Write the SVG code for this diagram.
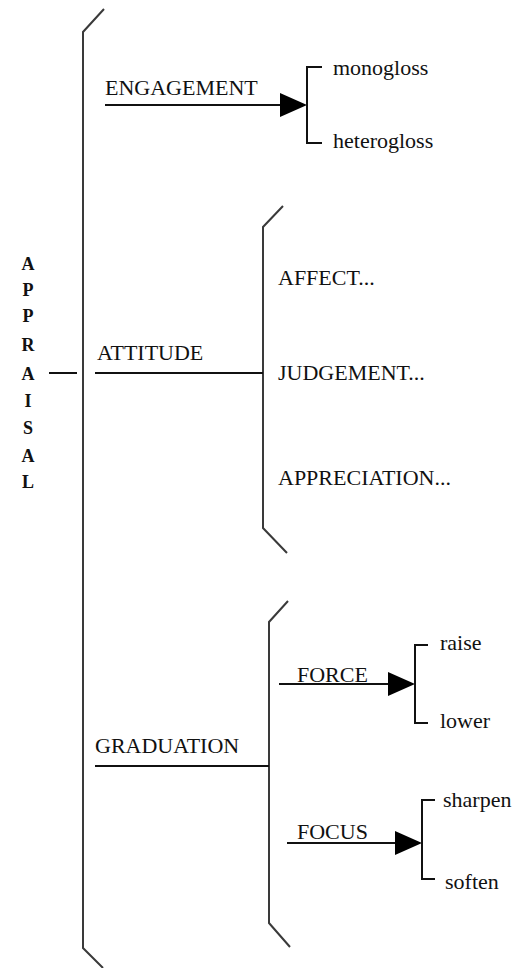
<svg xmlns="http://www.w3.org/2000/svg" width="515" height="968" viewBox="0 0 515 968">
<style>
text{font-family:'Liberation Serif','Times New Roman','DejaVu Serif',serif;fill:#111;}
.t{font-size:22px;}
.s{font-size:22px;}
.v{font-size:18px;font-weight:bold;text-anchor:middle;}
.br{fill:none;stroke:#3a3a3a;stroke-width:2;}
.ln{fill:none;stroke:#111;stroke-width:2;}
.ah{fill:#000;stroke:none;}
</style>
<rect width="515" height="968" fill="#fff"/>
<g id="appraisal">
<text class="v" x="28" y="270">A</text>
<text class="v" x="28" y="296">P</text>
<text class="v" x="28" y="322">P</text>
<text class="v" x="28" y="351">R</text>
<text class="v" x="28" y="380">A</text>
<text class="v" x="28" y="407">I</text>
<text class="v" x="28" y="434">S</text>
<text class="v" x="28" y="462">A</text>
<text class="v" x="28" y="488">L</text>
</g>
<g id="main-bracket">
<path class="br" d="M104,9 L83,32 L83,948 L103,968"/>
</g>
<g id="engagement">
<text class="t" x="105" y="95">ENGAGEMENT</text>
</g>
<g id="monogloss"><text class="s" x="333" y="75">monogloss</text></g>
<g id="heterogloss"><text class="s" x="333" y="148">heterogloss</text></g>
<g id="attitude">
<text class="t" x="97" y="360">ATTITUDE</text>
</g>
<g id="attitude-bracket">
<path class="br" d="M283,206 L263,227 L263,528 L287,553"/>
</g>
<g id="affect"><text class="t" x="278" y="285">AFFECT...</text></g>
<g id="judgement"><text class="t" x="278" y="380">JUDGEMENT...</text></g>
<g id="appreciation"><text class="t" x="278" y="485">APPRECIATION...</text></g>
<g id="graduation">
<text class="t" x="95" y="753">GRADUATION</text>
</g>
<g id="graduation-bracket">
<path class="br" d="M288,601 L269,622 L269,923 L290,947"/>
</g>
<g id="force"><text class="t" x="297" y="682">FORCE</text></g>
<g id="raise"><text class="s" x="440" y="650">raise</text></g>
<g id="lower"><text class="s" x="440" y="728">lower</text></g>
<g id="focus"><text class="t" x="297" y="839">FOCUS</text></g>
<g id="sharpen"><text class="s" x="443" y="807">sharpen</text></g>
<g id="soften"><text class="s" x="445" y="889">soften</text></g>
<g id="connectors">
<line class="ln" x1="49" y1="373" x2="77" y2="373"/>
<line class="ln" x1="95" y1="373" x2="263" y2="373"/>
<line class="ln" x1="105" y1="105" x2="282" y2="105"/>
<polygon class="ah" points="280,93 307,105 280,117"/>
<path class="ln" d="M322,67 L307,67 L307,143 L322,143"/>
<line class="ln" x1="95" y1="766" x2="269" y2="766"/>
<line class="ln" x1="279" y1="684" x2="390" y2="684"/>
<polygon class="ah" points="388,672 415,684 388,696"/>
<path class="ln" d="M428,645 L415,645 L415,723 L428,723"/>
<line class="ln" x1="287" y1="843" x2="397" y2="843"/>
<polygon class="ah" points="395,831 422,843 395,855"/>
<path class="ln" d="M435,800 L422,800 L422,879 L435,879"/>
</g>
</svg>
